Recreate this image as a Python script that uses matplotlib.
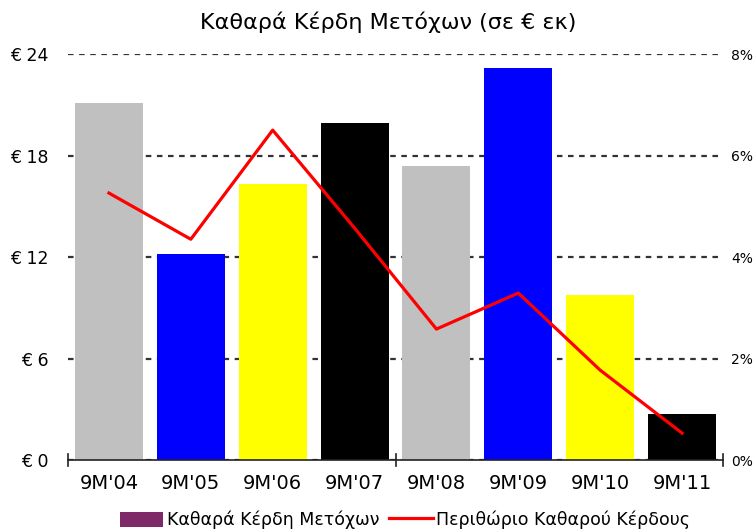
import matplotlib
matplotlib.use("Agg")
import matplotlib.pyplot as plt
from matplotlib.patches import Patch
from matplotlib.lines import Line2D

categories = ["9M'04", "9M'05", "9M'06", "9M'07", "9M'08", "9M'09", "9M'10", "9M'11"]
net_profit = [21.1, 12.2, 16.3, 19.9, 17.4, 23.2, 9.75, 2.7]
net_margin = [5.26, 4.35, 6.5, 4.57, 2.58, 3.29, 1.77, 0.53]
bar_colors = ["#C0C0C0", "#0000FF", "#FFFF00", "#000000",
              "#C0C0C0", "#0000FF", "#FFFF00", "#000000"]
left_ticks = [0, 6, 12, 18, 24]
left_labels = ["€ 0", "€ 6", "€ 12", "€ 18", "€ 24"]
right_ticks = [0, 2, 4, 6, 8]
right_labels = ["0%", "2%", "4%", "6%", "8%"]
title = "Καθαρά Κέρδη Μετόχων (σε € εκ)"
legend_labels = ["Καθαρά Κέρδη Μετόχων", "Περιθώριο Καθαρού Κέρδους"]

plt.rcParams['font.family'] = ['DejaVu Sans']

fig = plt.figure(figsize=(7.54, 5.32), dpi=100)
ax = fig.add_axes([68/754, 1-460/532, (723-68)/754, (460-54)/532])
x = list(range(len(categories)))

ax.set_axisbelow(True)
ax.yaxis.grid(True, linestyle=(0, (2.5, 2.5)), color="#333333", linewidth=1.6)
ax.bar(x, net_profit, width=0.83, color=bar_colors, zorder=2)
ax.set_xlim(-0.5, 7.5)
ax.set_ylim(0, 24)
ax.set_yticks(left_ticks)
ax.set_yticklabels(left_labels, fontsize=12.5)
ax.tick_params(axis='y', length=0, pad=14)
ax.set_xticks(x)
ax.set_xticklabels(categories, fontsize=14)
ax.tick_params(axis='x', length=0, pad=10)
for s in ["top", "left", "right"]:
    ax.spines[s].set_visible(False)
ax.spines["bottom"].set_color("#222222")
ax.spines["bottom"].set_linewidth(1.2)
for b in [-0.5, 3.5, 7.5]:
    ax.plot([b, b], [-0.35, 0.35], color="#222222", lw=1.2, clip_on=False, zorder=3)

ax2 = ax.twinx()
ax2.plot(x, net_margin, color="#FF0000", linewidth=2.3, zorder=5)
ax2.set_ylim(0, 8)
ax2.set_yticks(right_ticks)
ax2.set_yticklabels(right_labels, fontsize=10)
ax2.tick_params(axis='y', length=0, pad=6)
for s in ["top", "left", "right", "bottom"]:
    ax2.spines[s].set_visible(False)

fig.text(388/754, 1-22/532, title, ha="center", va="center", fontsize=16)

handles = [Patch(facecolor="#7F2A68", edgecolor="none"),
           Line2D([0], [0], color="#FF0000", linewidth=2.3)]
fig.legend(handles, legend_labels, loc="center", bbox_to_anchor=(405/754, 1-520/532),
           ncol=2, frameon=False, fontsize=12.5, handlelength=2.5, handleheight=1.0,
           columnspacing=0.6, handletextpad=0.2)

fig.savefig("out.png", dpi=100)
